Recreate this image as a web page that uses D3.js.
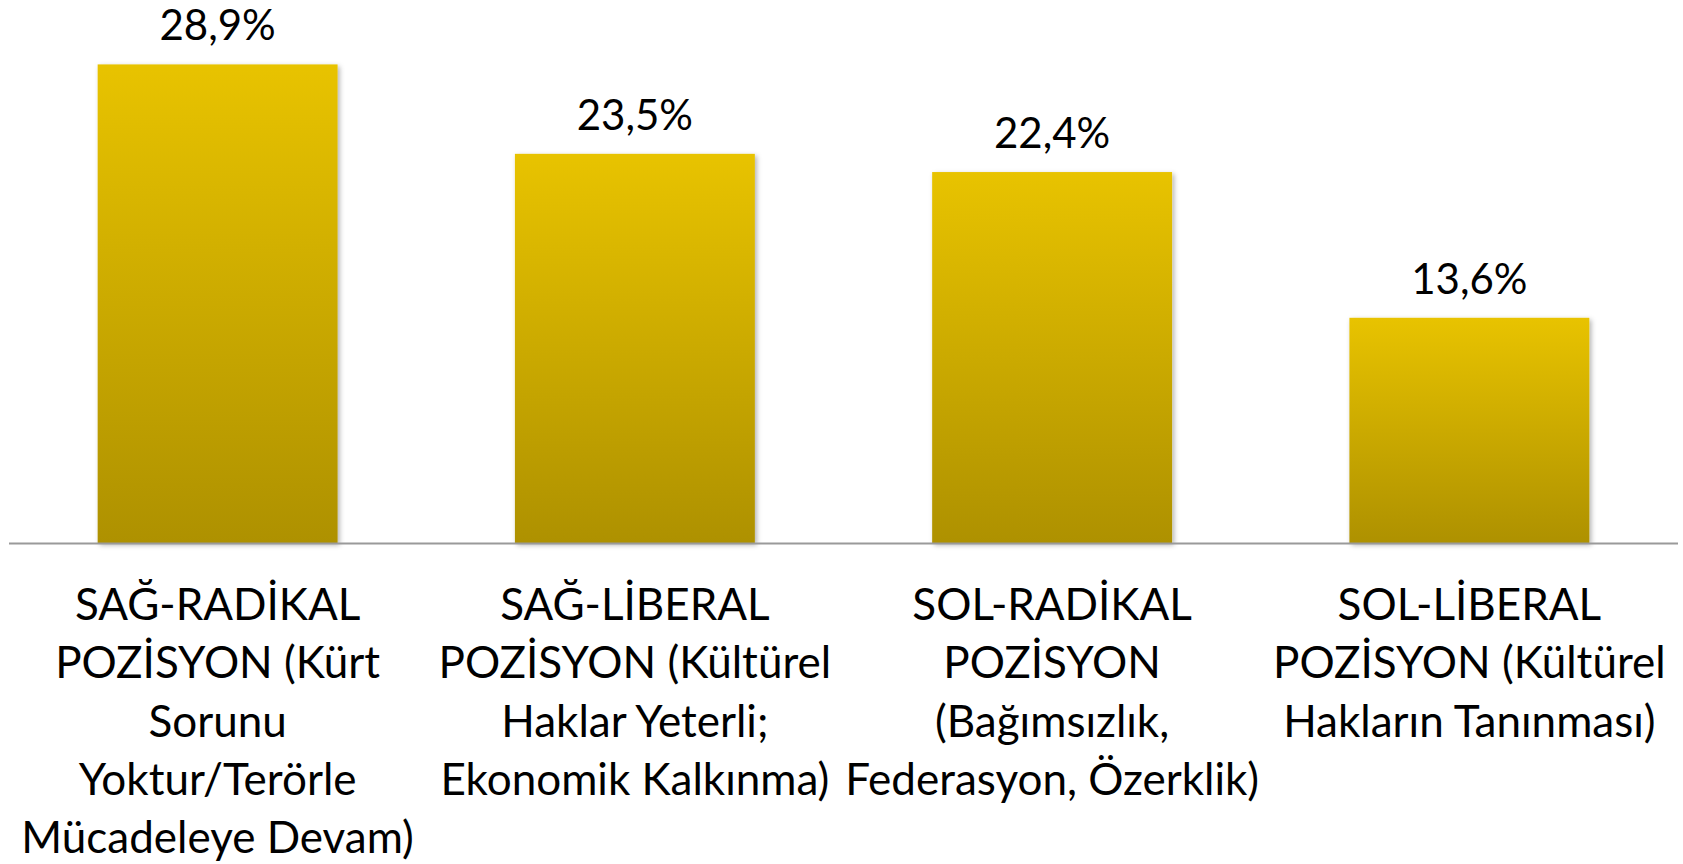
<!DOCTYPE html>
<html>
<head>
<meta charset="utf-8">
<script src="https://cdn.jsdelivr.net/npm/d3@7"></script>
<style>
  html, body { margin: 0; padding: 0; background: #fff; }
  svg text { font-family: Lato, "Open Sans", sans-serif; fill: #000; }
</style>
</head>
<body>
<div class="chart"></div>
<script>
// categories, each already split into lines as in the original
var categories = [
    ["SAĞ-RADİKAL", "POZİSYON (Kürt", "Sorunu", "Yoktur/Terörle", "Mücadeleye Devam)"],
    ["SAĞ-LİBERAL", "POZİSYON (Kültürel", "Haklar Yeterli;", "Ekonomik Kalkınma)"],
    ["SOL-RADİKAL", "POZİSYON", "(Bağımsızlık,", "Federasyon, Özerklik)"],
    ["SOL-LİBERAL", "POZİSYON (Kültürel", "Hakların Tanınması)"]
];
var values = [28.9, 23.5, 22.4, 13.6];
var valueLabels = ["28,9%", "23,5%", "22,4%", "13,6%"];

var width = 1683, height = 864;
var plot = { left: 9, right: 1678, bottom: 543 };

var svg = d3.select(".chart").append("svg")
    .attr("width", width)
    .attr("height", height);

var defs = svg.append("defs");
var grad = defs.append("linearGradient")
    .attr("id", "barGrad")
    .attr("x1", 0).attr("y1", 0)
    .attr("x2", 0).attr("y2", 1);
grad.append("stop").attr("offset", "0%").attr("stop-color", "#e8c300");
grad.append("stop").attr("offset", "100%").attr("stop-color", "#ae9100");

var shadow = defs.append("filter")
    .attr("id", "shadow")
    .attr("x", "-10%").attr("y", "-10%")
    .attr("width", "130%").attr("height", "130%");
shadow.append("feDropShadow")
    .attr("dx", 2).attr("dy", 2)
    .attr("stdDeviation", 2.5)
    .attr("flood-color", "#000")
    .attr("flood-opacity", 0.3);

var x = d3.scaleBand()
    .domain(d3.range(categories.length))
    .range([plot.left, plot.right])
    .paddingInner(0.425)
    .paddingOuter(0.2125);

var y = d3.scaleLinear()
    .domain([0, 30])
    .range([plot.bottom, plot.bottom - 30 * 16.56]);

// bars
svg.selectAll(".bar")
    .data(values)
    .enter()
    .append("rect")
    .attr("class", "bar")
    .attr("x", function (d, i) { return x(i); })
    .attr("y", function (d) { return y(d); })
    .attr("width", x.bandwidth())
    .attr("height", function (d) { return y(0) - y(d); })
    .attr("fill", "url(#barGrad)")
    .attr("filter", "url(#shadow)");

// baseline
svg.append("line")
    .attr("x1", plot.left)
    .attr("x2", plot.right)
    .attr("y1", plot.bottom + 0.5)
    .attr("y2", plot.bottom + 0.5)
    .attr("stroke", "#9a9a9a")
    .attr("stroke-width", 2);

// value labels
svg.selectAll(".value")
    .data(values)
    .enter()
    .append("text")
    .attr("class", "value")
    .attr("x", function (d, i) { return x(i) + x.bandwidth() / 2; })
    .attr("y", function (d) { return y(d) - 24; })
    .attr("text-anchor", "middle")
    .style("font-size", "42px")
    .text(function (d, i) { return valueLabels[i]; });

// category labels
var cat = svg.selectAll(".cat")
    .data(categories)
    .enter()
    .append("text")
    .attr("class", "cat")
    .attr("text-anchor", "middle")
    .style("font-size", "44px");

cat.selectAll("tspan")
    .data(function (d, i) { return d.map(function (t) { return { t: t, i: i }; }); })
    .enter()
    .append("tspan")
    .attr("x", function (d) { return x(d.i) + x.bandwidth() / 2; })
    .attr("y", function (d, j) { return 620 + j * 58.3; })
    .text(function (d) { return d.t; });
</script>
</body>
</html>
